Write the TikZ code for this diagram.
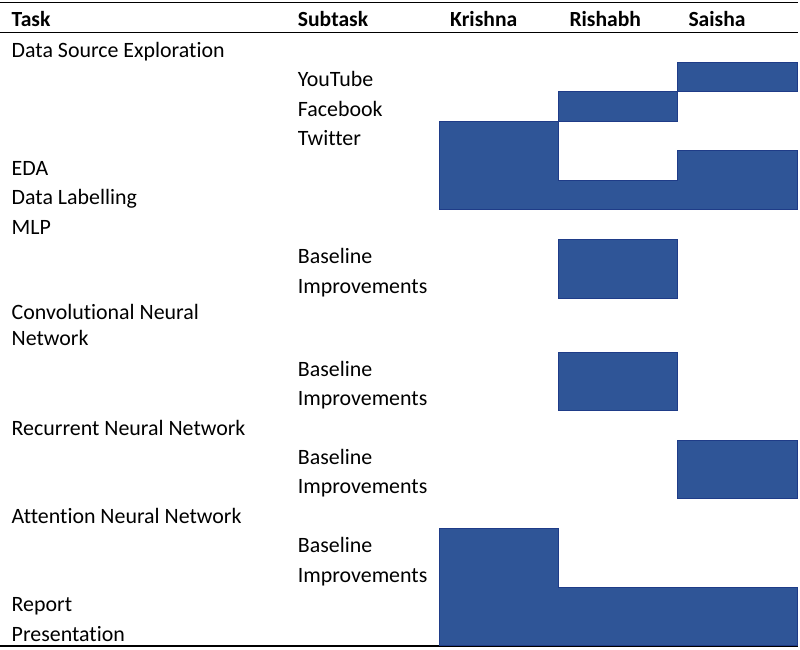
\documentclass[tikz,border=0pt]{standalone}
\usepackage{fontspec}
\setmainfont{Carlito}[Ligatures=NoCommon]
\begin{document}
\begin{tikzpicture}[x=1pt,y=-1pt,
  lbl/.style={anchor=base west,inner sep=0pt,font=\fontsize{21.9}{25.7}\selectfont},
  hdr/.style={lbl,font=\fontsize{21.6}{25.7}\selectfont\bfseries},
  bar/.style={fill=barblue,draw=bardark,line width=0.6pt},
  rulel/.style={line width=1.2pt,black}]
\definecolor{barblue}{HTML}{2F5597}
\definecolor{bardark}{HTML}{1F3C88}
\useasboundingbox (0,0) rectangle (800,649);
% rules
\coordinate (tl) at (0,2.7); \coordinate (tr) at (798,2.7);
\coordinate (hl) at (0,32.7); \coordinate (hr) at (798,32.7);
\coordinate (bl) at (0,646); \coordinate (br) at (798,646);
\draw[rulel] (tl) -- (tr);
\draw[rulel] (hl) -- (hr);
\draw[rulel] (bl) -- (br);
% bars
\draw[bar] (677.7,62) rectangle (797.7,91.5);
\draw[bar] (558,91.5) rectangle (677.7,121);
\draw[bar] (439,121) -- (558,121) -- (558,180) -- (677.7,180) -- (677.7,150.5) -- (797.7,150.5) -- (797.7,209.5) -- (439,209.5) -- cycle;
\draw[bar] (558,239) rectangle (677.7,298);
\draw[bar] (558,352) rectangle (677.7,410);
\draw[bar] (677.7,440) rectangle (797.7,498);
\draw[bar] (439,528) -- (558,528) -- (558,587) -- (797.7,587) -- (797.7,645) -- (439,645) -- cycle;
% header
\node[hdr] (hTask) at (11.5,26) {Task};
\node[hdr] (hSub) at (297.7,26) {Subtask};
\node[hdr] (hK) at (450,26) {Krishna};
\node[hdr] (hR) at (569.3,26) {Rishabh};
\node[hdr] (hS) at (688.3,26) {Saisha};
% tasks
\node[lbl] (t1) at (11.5,57.4) {Data Source Exploration};
\node[lbl] (s1) at (297.7,86.9) {YouTube};
\node[lbl] (s2) at (297.7,116.4) {Facebook};
\node[lbl] (s3) at (297.7,145.9) {Twitter};
\node[lbl] (t2) at (11.5,175.4) {EDA};
\node[lbl] (t3) at (11.5,204.9) {Data Labelling};
\node[lbl] (t4) at (11.5,234.4) {MLP};
\node[lbl] (s4) at (297.7,263.9) {Baseline};
\node[lbl] (s5) at (297.7,293.4) {Improvements};
\node[lbl] (t5a) at (11.5,319.3) {Convolutional Neural};
\node[lbl] (t5b) at (11.5,345) {Network};
\node[lbl] (s6) at (297.7,376.4) {Baseline};
\node[lbl] (s7) at (297.7,405.4) {Improvements};
\node[lbl] (t6) at (11.5,435.4) {Recurrent Neural Network};
\node[lbl] (s8) at (297.7,464.4) {Baseline};
\node[lbl] (s9) at (297.7,493.4) {Improvements};
\node[lbl] (t7) at (11.5,523.4) {Attention Neural Network};
\node[lbl] (s10) at (297.7,552.9) {Baseline};
\node[lbl] (s11) at (297.7,582.4) {Improvements};
\node[lbl] (t8) at (11.5,611.9) {Report};
\node[lbl] (t9) at (11.5,641.2) {Presentation};
\end{tikzpicture}
\end{document}
